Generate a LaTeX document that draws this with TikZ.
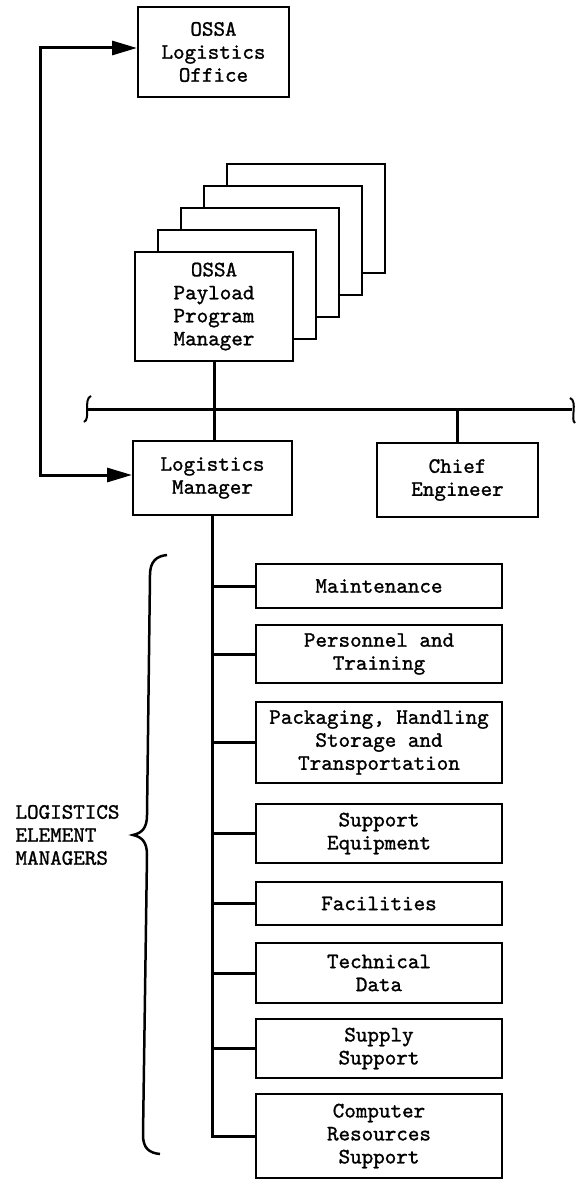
\documentclass[tikz,border=0pt]{standalone}
\usepackage{fontspec}
\setmonofont{lmmono10-regular.otf}[FakeBold=1.2]
\usetikzlibrary{arrows.meta}

\begin{document}
\begin{tikzpicture}[x=1pt,y=-1pt,
    tt/.style={font=\ttfamily\fontsize{22}{23}\selectfont},
    box/.style={tt, draw, line width=2pt, fill=white, inner sep=0pt, align=center},
    elem/.style={box, minimum width=246},
    link/.style={line width=3pt},
    >={Triangle[length=25pt,width=14pt]}]
  \useasboundingbox (0,0) rectangle (575,1182);
	\draw (213.5,52) node [box, minimum width=151, minimum height=90] (office) {OSSA\\Logistics\\Office};
	% payload program managers, stacked
	\draw (306,218.5) node [box, minimum width=158, minimum height=109] (pay4) {};
	\draw (283,240.5) node [box, minimum width=158, minimum height=109] (pay3) {};
	\draw (260,262.5) node [box, minimum width=158, minimum height=109] (pay2) {};
	\draw (237,284.5) node [box, minimum width=158, minimum height=109] (pay1) {};
	\draw (214,306.5) node [box, minimum width=158, minimum height=109] (pay) {OSSA\\Payload\\Program\\Manager};
	\draw (212.5,478) node [box, minimum width=159, minimum height=74] (lm) {Logistics\\Manager};
	\draw (457.5,480) node [box, minimum width=161, minimum height=74] (ce) {Chief\\Engineer};
	% element managers
	\draw (379,586) node [elem, minimum height=44] (e1) {Maintenance};
	\draw (379,654) node [elem, minimum height=58] (e2) {Personnel and\\Training};
	\draw (379,742.5) node [elem, minimum height=81] (e3) {Packaging, Handling\\Storage and\\Transportation};
	\draw (379,833.5) node [elem, minimum height=59] (e4) {Support\\Equipment};
	\draw (379,903.5) node [elem, minimum height=43] (e5) {Facilities};
	\draw (379,973) node [elem, minimum height=60] (e6) {Technical\\Data};
	\draw (379,1048.5) node [elem, minimum height=59] (e7) {Supply\\Support};
	\draw (379,1136) node [elem, minimum height=84] (e8) {Computer\\Resources\\Support};
	\draw (12,835) node [tt, anchor=west, align=left] (lem) {LOGISTICS\\ELEMENT\\MANAGERS};

	\coordinate (busl) at (87,409);
	\coordinate (busr) at (572,409);
	\coordinate (bend) at (40,475);
	\draw[link] (busl) -- (busr);
	\draw[line width=2pt] (91,396) .. controls (83,399) and (91,419) .. (84,422);
	\draw[line width=2pt] (570,398) .. controls (578,401) and (570,420) .. (575,423);
	\draw[link] (pay.south) -- (pay.south |- lm.north);
	\draw[link] (ce.north) -- (ce.north |- busr);
	\draw[link,<->] ([yshift=4pt]office.west) -| (bend) -- ([yshift=3pt]lm.west);

	\draw[link] (lm.south) |- (e8.west);
	\draw[link] (lm.south |- e1.west) -- (e1.west);
	\draw[link] (lm.south |- e2.west) -- (e2.west);
	\draw[link] (lm.south |- e3.west) -- (e3.west);
	\draw[link] (lm.south |- e4.west) -- (e4.west);
	\draw[link] (lm.south |- e5.west) -- (e5.west);
	\draw[link] (lm.south |- e6.west) -- (e6.west);
	\draw[link] (lm.south |- e7.west) -- (e7.west);

	% brace
	\draw[line width=2.5pt] (167,555) .. controls (156,556) and (150,562) .. (150,575)
		-- (147,815) .. controls (147,828) and (142,833) .. (133,835)
		.. controls (142,837) and (147,842) .. (147,855)
		-- (143,1135) .. controls (143,1148) and (149,1153) .. (160,1154);
\end{tikzpicture}
\end{document}
